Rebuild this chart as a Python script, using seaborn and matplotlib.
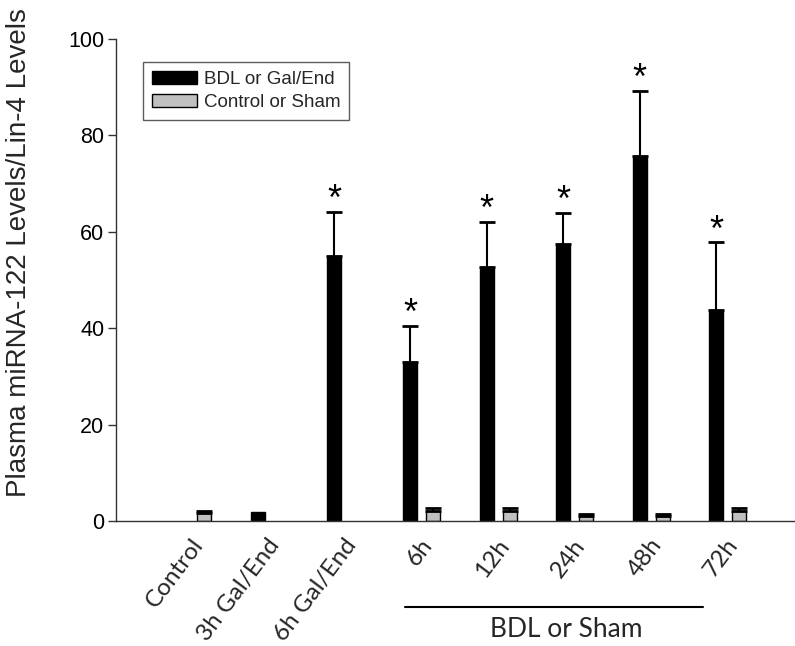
import numpy as np
import pandas as pd
import seaborn as sns
import matplotlib.pyplot as plt
import matplotlib.transforms as mtrans

# --- data ---
groups = ["Control", "3h Gal/End", "6h Gal/End", "6h", "12h", "24h", "48h", "72h"]
bdl_mean = [np.nan, 1.8, 55.0, 33.0, 52.8, 57.5, 75.8, 43.8]
bdl_err = [np.nan, 0.0, 9.2, 7.5, 9.3, 6.5, 13.5, 14.0]
ctrl_mean = [1.6, np.nan, np.nan, 2.1, 2.1, 1.1, 1.1, 2.1]
ctrl_err = [0.5, np.nan, np.nan, 0.5, 0.5, 0.35, 0.3, 0.7]
significant = [False, False, True, True, True, True, True, True]
series = ["BDL or Gal/End", "Control or Sham"]
bracket_label = "BDL or Sham"
ylabel = "Plasma miRNA-122 Levels/Lin-4 Levels"

df = pd.DataFrame({
    "group": groups * 2,
    "series": [series[0]] * len(groups) + [series[1]] * len(groups),
    "value": bdl_mean + ctrl_mean,
}).dropna(subset=["value"])

sns.set_theme(style="white")
plt.rcParams["font.family"] = ["Liberation Sans", "DejaVu Sans"]

fig = plt.figure(figsize=(7.95, 6.46), dpi=100)
ax = fig.add_axes([0.146, 0.1935, 0.854, 0.746])

palette = {series[0]: "black", series[1]: "#c0c0c0"}
sns.barplot(data=df, x="group", y="value", hue="series", order=groups,
            hue_order=series, palette=palette, width=0.6, gap=0.39,
            errorbar=None, edgecolor="black", linewidth=1, saturation=1, ax=ax)

# upper-only error bars and significance stars
errs = {series[0]: bdl_err, series[1]: ctrl_err}
for cont, name in zip(ax.containers, series):
    for p in cont.patches:
        xc = p.get_x() + p.get_width() / 2
        i = int(round(xc))
        h = p.get_height()
        e = errs[name][i]
        if np.isnan(h) or np.isnan(e) or e <= 0:
            continue
        ax.errorbar(xc, h, yerr=[[0], [e]], fmt="none", ecolor="black",
                    elinewidth=1.5, capsize=6, capthick=2)
        if name == series[0] and significant[i]:
            ax.annotate("*", (xc, h + e), xytext=(0, 1), textcoords="offset points",
                        ha="center", va="baseline", fontsize=26, color="black")

ax.set_ylim(0, 100)
ax.set_xlim(-1.0, 7.88)
ax.set_yticks([0, 20, 40, 60, 80, 100])
ax.tick_params(axis="y", direction="out", length=6, width=1, labelsize=15.5,
               colors="#333333", labelcolor="black", left=True, pad=2.5)
ax.tick_params(axis="x", length=0, pad=10)
sns.despine(ax=ax)
for s in ["left", "bottom"]:
    ax.spines[s].set_color("#333333")
    ax.spines[s].set_linewidth(1)

ax.set_xlabel("")
ax.set_ylabel(ylabel, fontsize=20)
ax.yaxis.set_label_coords(-0.124, 0.558)

offset = mtrans.ScaledTranslation(-2 / 100, 0, fig.dpi_scale_trans)
ax.set_xticks(range(len(groups)))
ax.set_xticklabels(groups, rotation=53, ha="right", rotation_mode="anchor",
                   fontsize=17.5, family=["Lato", "DejaVu Sans"])
for lab in ax.get_xticklabels():
    lab.set_transform(lab.get_transform() + offset)

# bracket under the BDL groups
trans = ax.get_xaxis_transform()
ax.plot([3 - 0.22, 7 - 0.32], [-0.178, -0.178], transform=trans, color="black",
        lw=1.5, clip_on=False)
ax.text(5 - 0.11, -0.2, bracket_label, transform=trans, ha="center", va="top",
        fontsize=19, family=["Lato", "DejaVu Sans"])

leg = ax.legend(loc="upper left", bbox_to_anchor=(0.04, 0.952), fontsize=13.5,
                frameon=True, fancybox=False, edgecolor="#333333",
                handlelength=2.4, handleheight=0.75, borderpad=0.45,
                labelspacing=0.3, handletextpad=0.4, borderaxespad=0)
leg.get_frame().set_linewidth(1)

fig.savefig("out.png", dpi=100)
